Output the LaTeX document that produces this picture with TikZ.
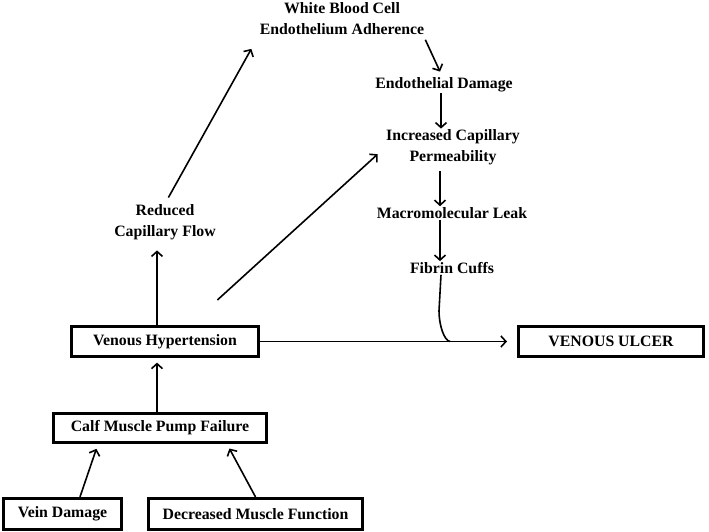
\documentclass[tikz,border=0pt]{standalone}
\usepackage{fontspec}
\setmainfont{Liberation Serif}
\usetikzlibrary{arrows.meta}
\usetikzlibrary{positioning}
\tikzstyle{arrow} = [line width=1.6pt,-{Straight Barb[length=5pt,width=11pt]}]
\tikzstyle{cbox} = [draw=black, line width=3.2pt, inner sep=0pt, minimum height=30pt]
\tikzstyle{lbl} = [align=center, inner sep=1pt]

\begin{document}
\begin{tikzpicture}[x=1pt, y=-1pt, font=\fontsize{15.8}{21}\selectfont\bfseries]
		\useasboundingbox (0,0) rectangle (709,532);
		\node (calf) [cbox, minimum width=212.8pt, minimum height=29pt] at (160,428) {Calf Muscle Pump Failure};
		\node (vh) [cbox, minimum width=186.8pt, node distance=86.5pt, above of=calf, xshift=5pt] {Venous Hypertension};
		\node (ulcer) [cbox, minimum width=184.8pt, node distance=446pt, right of=vh] {VENOUS ULCER};
		\node (vein) [cbox, minimum width=117.8pt, minimum height=31pt] at (62.5,514) {Vein Damage};
		\node (dmf) [cbox, minimum width=213.8pt, minimum height=31pt, node distance=193pt, right of=vein] {Decreased Muscle Function};
		\node (rcf) [lbl, node distance=119pt, above of=vh] {Reduced\\Capillary Flow};
		\node (wbc) [lbl] at (342,18.5) {White Blood Cell\\Endothelium Adherence};
		\node (edam) [lbl, node distance=66.5pt, below of=wbc, xshift=102pt] {Endothelial Damage};
		\node (icp) [lbl, node distance=62.5pt, below of=edam, xshift=9pt] {Increased Capillary\\Permeability};
		\node (mml) [lbl, node distance=65.5pt, below of=icp, xshift=-1pt] {Macromolecular Leak};
		\node (fib) [lbl, node distance=55pt, below of=mml] {Fibrin Cuffs};
		\coordinate (join) at (450,341.5);
		% causes at the bottom
		\draw [arrow, shorten >=5pt] ([xshift=17.5pt]vein.north) -- ([xshift=-62pt]calf.south);
		\draw [arrow, shorten >=5pt] (dmf.north) -- ([xshift=67pt]calf.south);
		\draw [arrow, shorten >=4.5pt] ([xshift=-3pt]calf.north) -- ([xshift=-3pt]calf.north |- vh.south);
		% left branch
		\draw [arrow, shorten >=9pt] ([xshift=-8pt]vh.north) -- ([xshift=-8pt]vh.north |- rcf.south);
		\draw [arrow, shorten <=7pt, shorten >=15pt] (rcf.north) -- (wbc.south west);
		\draw [arrow, shorten <=37pt, shorten >=10pt] ([xshift=25pt]vh.north) -- (icp.west);
		% right chain
		\draw [arrow] ([yshift=-4pt]wbc.south east) -- ([xshift=-4pt,yshift=5pt]edam.north);
		\draw [arrow] ([xshift=-3pt]edam.south) -- ([xshift=-3pt]edam.south |- icp.north);
		\draw [arrow, shorten <=5pt] ([xshift=-13pt]icp.south) -- ([xshift=-13pt]icp.south |- mml.north);
		\draw [arrow] ([xshift=-12pt]mml.south) -- ([xshift=-12pt]mml.south |- fib.north);
		\draw [line width=1.6pt] ([xshift=-11pt]fib.south) -- ++(-2,36) .. controls +(0,14) and +(-6,-1) .. (join);
		\draw [arrow, shorten >=10pt] (vh.east) -- (ulcer.west);
\end{tikzpicture}
\end{document}
